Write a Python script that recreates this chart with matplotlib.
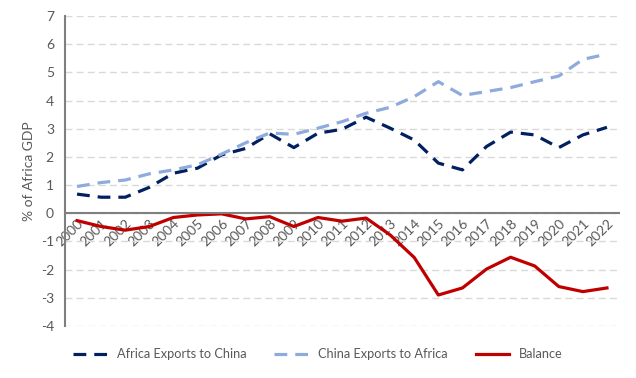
import matplotlib
matplotlib.use("Agg")
import matplotlib.pyplot as plt

years = [str(y) for y in range(2000, 2023)]
africa_exports = [0.68, 0.57, 0.57, 0.92, 1.42, 1.6, 2.07, 2.3, 2.82, 2.33, 2.84, 2.98, 3.41,
                  3.02, 2.6, 1.78, 1.54, 2.37, 2.88, 2.78, 2.33, 2.78, 3.05]
china_exports = [0.95, 1.09, 1.18, 1.4, 1.54, 1.72, 2.1, 2.5, 2.85, 2.8, 3.02, 3.25, 3.55,
                 3.76, 4.14, 4.67, 4.18, 4.32, 4.46, 4.67, 4.87, 5.46, 5.65]
balance = [-0.26, -0.47, -0.6, -0.47, -0.15, -0.06, -0.02, -0.2, -0.12, -0.47, -0.15, -0.28, -0.17,
           -0.77, -1.57, -2.9, -2.65, -1.98, -1.56, -1.87, -2.6, -2.78, -2.65]

plt.rcParams['font.family'] = ['Lato', 'DejaVu Sans']
plt.rcParams['axes.unicode_minus'] = False
txt = '#595959'

fig = plt.figure(figsize=(6.36, 3.78), dpi=100)
ax = fig.add_axes([65/636, 1-326/378, (619-65)/636, (326-16)/378])

x = list(range(len(years)))
ax.plot(x, africa_exports, color='#002060', lw=2.3, dashes=(4, 2.5), label='Africa Exports to China')
ax.plot(x, china_exports, color='#8FAADC', lw=2.3, dashes=(4, 2.5), label='China Exports to Africa')
ax.plot(x, balance, color='#C00000', lw=2.3, label='Balance')

ax.set_xlim(-0.5, len(years) - 0.5)
ax.set_ylim(-4, 7)
ax.set_yticks(range(-4, 8))
ax.yaxis.grid(True, color='#D9D9D9', linestyle=(0, (5, 3)), lw=1)
ax.set_axisbelow(True)

for s in ['top', 'right']:
    ax.spines[s].set_visible(False)
ax.spines['left'].set_color('#7F7F7F')
ax.spines['left'].set_linewidth(1.5)
ax.spines['bottom'].set_position(('data', 0))
ax.spines['bottom'].set_color('#7F7F7F')
ax.spines['bottom'].set_linewidth(1.5)

ax.set_xticks(x)
ax.set_xticklabels(years, rotation=45, ha='right', va='top', rotation_mode='anchor')
ax.tick_params(axis='both', length=0, labelsize=10, colors=txt)
ax.tick_params(axis='x', pad=3)
ax.tick_params(axis='y', pad=8)
ax.set_ylabel('% of Africa GDP', fontsize=10, color=txt, labelpad=4)

fig.legend(loc='center', bbox_to_anchor=(0.5, 1-354/378), ncol=3, frameon=False,
           fontsize=9.2, labelcolor=txt, handlelength=2.6, handletextpad=0.8,
           columnspacing=2.2)

fig.savefig('out.png', dpi=100)
